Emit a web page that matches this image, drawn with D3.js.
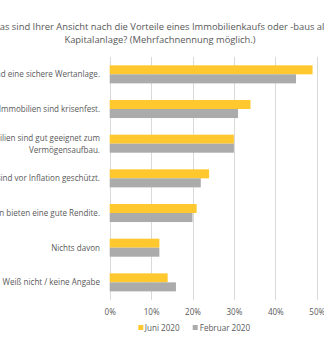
<!DOCTYPE html>
<html><head><meta charset="utf-8">
<script src="https://cdn.jsdelivr.net/npm/d3@7"></script>
<style>
html,body{margin:0;padding:0;background:#fff;overflow:hidden;}
svg{display:block;}
text{font-family:"Open Sans",sans-serif;}
</style></head>
<body>
<script>
const titleLines = ["Was sind Ihrer Ansicht nach die Vorteile eines Immobilienkaufs oder -baus als", "Kapitalanlage? (Mehrfachnennung möglich.)"];
const categories = [
  ["Immobilien sind eine sichere Wertanlage."],
  ["Immobilien sind krisenfest."],
  ["Immobilien sind gut geeignet zum", "Vermögensaufbau."],
  ["Immobilien sind vor Inflation geschützt."],
  ["Immobilien bieten eine gute Rendite."],
  ["Nichts davon"],
  ["Weiß nicht / keine Angabe"]
];
const seriesNames = ["Juni 2020", "Februar 2020"];
const juni2020 = [49, 34, 30, 24, 21, 12, 14];
const februar2020 = [45, 31, 30, 22, 20, 12, 16];
const tickValues = [0, 10, 20, 30, 40, 50];
const colors = ["#FFC82F", "#ABABAB"];

const W = 324, H = 338;
const svg = d3.select("body").append("svg").attr("width", W).attr("height", H);

const catKeys = categories.map((c, i) => i);
const x = d3.scaleLinear().domain([0, 50]).range([109.7, 316.7]);
const y = d3.scaleBand().domain(catKeys).range([57, 299.7]).paddingInner(0.48).paddingOuter(0.24);
const ySub = d3.scaleBand().domain([0, 1]).range([0, y.bandwidth()]);

const titleSize = 9.4;
const labelSize = 8.05;
const legendSize = 8.1;
const textColor = "#595959";

// title
svg.append("g").selectAll("text").data(titleLines).join("text")
  .attr("x", 160).attr("y", (d, i) => 30 + i * 13)
  .attr("text-anchor", "middle").attr("fill", textColor)
  .style("font-size", titleSize + "px").text(d => d);

// grid lines
svg.append("g").selectAll("line").data(tickValues).join("line")
  .attr("x1", d => Math.round(x(d)) + 0.5).attr("x2", d => Math.round(x(d)) + 0.5)
  .attr("y1", 57).attr("y2", 300)
  .attr("stroke", "#D9D9D9").attr("stroke-width", 1);

const xAxis = d3.axisBottom(x).tickValues(tickValues).tickSize(0).tickFormat(d => d + "%");
const ax = svg.append("g").attr("transform", "translate(0,304)").call(xAxis);
ax.select(".domain").remove();
ax.selectAll("text").attr("fill", textColor).attr("dy", 0).attr("y", 10.5)
  .style("font-size", labelSize + "px").style("font-family", '"Open Sans",sans-serif');

// bars
const data = categories.map((c, i) => ({i, vals: [juni2020[i], februar2020[i]]}));
const groups = svg.append("g").selectAll("g").data(data).join("g")
  .attr("transform", d => `translate(0,${y(d.i)})`);
groups.selectAll("rect").data(d => d.vals.map((v, s) => ({v, s}))).join("rect")
  .attr("x", x(0)).attr("y", d => ySub(d.s))
  .attr("width", d => x(d.v) - x(0)).attr("height", ySub.bandwidth())
  .attr("fill", d => colors[d.s]);

// category labels
const lab = svg.append("g").selectAll("text").data(data).join("text")
  .attr("text-anchor", "end").attr("fill", textColor)
  .style("font-size", labelSize + "px");
lab.each(function(d) {
  const lines = categories[d.i];
  const cy = y(d.i) + y.bandwidth() / 2;
  const lh = 12;
  d3.select(this).selectAll("tspan").data(lines).join("tspan")
    .attr("x", 100)
    .attr("y", (l, k) => cy + (k - (lines.length - 1) / 2) * lh + 3)
    .text(l => l);
});

// legend
const legX = [138.3, 192.7];
const leg = svg.append("g").selectAll("g").data(seriesNames).join("g")
  .attr("transform", (d, i) => `translate(${legX[i]},325)`);
leg.append("rect").attr("x", 0).attr("y", 0).attr("width", 5).attr("height", 5)
  .attr("fill", (d, i) => colors[i]);
leg.append("text").attr("x", (d, i) => i === 0 ? 6.5 : 7).attr("y", 6)
  .attr("fill", textColor).style("font-size", legendSize + "px").text(d => d);
</script>
</body></html>
